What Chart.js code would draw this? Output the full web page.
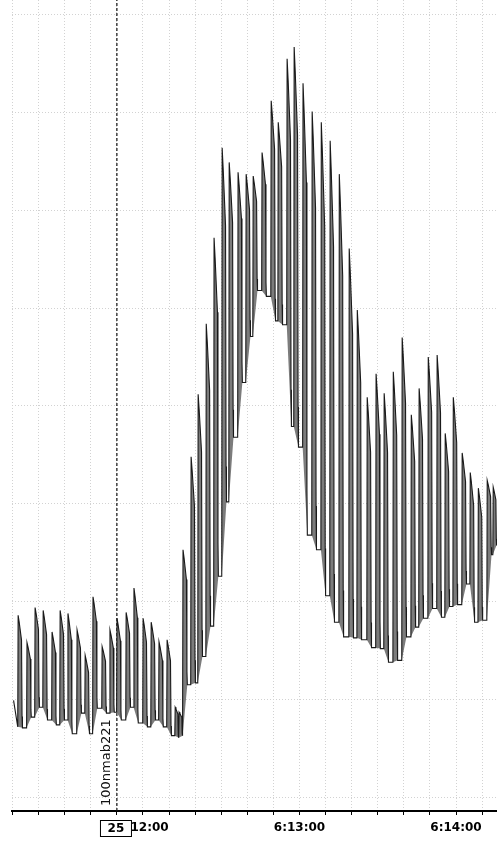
<!DOCTYPE html>
<html>
<head>
<meta charset="utf-8">
<script src="https://cdn.jsdelivr.net/npm/chart.js@4/dist/chart.umd.min.js"></script>
<style>
  html, body { margin: 0; padding: 0; background: #ffffff; }
  #wrap { width: 497px; height: 841px; position: relative; }
</style>
</head>
<body>
<div id="wrap"><canvas id="trace"></canvas></div>
<script>
// Times are seconds relative to 6:12:00.
const peakTimes = [
  -47.9, -44.5, -41.4, -38.3, -34.9, -31.8, -28.8, -25.3, -22.2, -19.2,
  -15.7, -12.7, -10.0, -6.5, -3.5, 0.0, 3.1, 6.1, 9.2, 12.3,
  13.8, 15.3, 18.4, 21.1, 24.2, 27.2, 30.3, 33.0, 36.4, 39.5,
  42.2, 45.6, 49.1, 51.8, 55.2, 57.9, 61.3, 64.8, 68.3, 71.7,
  75.2, 79.0, 82.1, 85.9, 89.3, 92.4, 95.9, 99.3, 102.8, 105.8,
  109.3, 112.7, 115.8, 118.9, 122.3, 125.4, 128.5, 131.9, 134.2
];
// Level reached at the top of each beat.
const peakLevels = [
  18.6, 15.8, 19.4, 19.1, 16.9, 19.1, 18.8, 17.1, 14.5, 20.5,
  15.4, 17.1, 18.3, 18.9, 21.4, 18.3, 17.9, 15.9, 16.1, 9.2,
  8.7, 25.3, 34.8, 41.2, 48.4, 57.2, 66.4, 64.9, 63.9, 63.7,
  63.5, 65.9, 71.2, 69.0, 75.5, 76.7, 73.0, 70.1, 69.0, 67.1,
  63.7, 56.1, 49.8, 40.9, 43.3, 41.3, 43.5, 47.0, 39.1, 41.8,
  45.0, 45.2, 37.2, 40.9, 35.2, 33.2, 31.6, 32.4, 31.7
];
// Level each beat rises from.
const troughLevels = [
  7.2, 7.1, 8.2, 9.2, 7.9, 7.4, 7.9, 6.5, 8.6, 6.5,
  9.1, 8.6, 8.7, 7.9, 9.2, 7.6, 7.2, 7.9, 7.2, 6.3,
  6.1, 6.3, 11.5, 11.7, 14.4, 17.5, 22.6, 30.2, 36.8, 42.4,
  47.1, 51.8, 51.2, 48.7, 48.3, 37.9, 35.8, 26.8, 25.3, 20.6,
  17.9, 16.4, 16.3, 16.1, 15.3, 15.2, 13.8, 14.0, 16.4, 17.4,
  18.3, 19.3, 18.4, 19.5, 19.7, 21.8, 17.9, 18.1, 24.8
];
const startTime = -49.6, startLevel = 9.9;
const endTime = 135.7, endLevel = 25.8;

const markerTime = -10;
const markerLabel = '100nmab221';
const eventCode = '25';

const gridSeconds = [-50, -40, -30, -20, -10, 0, 10, 20, 30, 40, 50, 60, 70, 80, 90, 100, 110, 120, 130];
const levelGrid = [0, 10, 20, 30, 40, 50, 60, 70, 80];

// Each beat: fast rise, a high plateau, then a steep drop to the next trough.
const tracePts = [{ x: startTime, y: startLevel }];
const basePts = [{ x: startTime, y: startLevel }];
for (let i = 0; i < peakTimes.length; i++) {
  const t = peakTimes[i], p = peakLevels[i], lo = troughLevels[i];
  const last = i + 1 >= peakTimes.length;
  const next = last ? endLevel : troughLevels[i + 1];
  const gap = (last ? endTime : peakTimes[i + 1]) - t;
  const k = Math.min(1, (gap - 0.15) / 1.7);
  const amp = p - next;
  tracePts.push(
    { x: t - 0.1, y: lo },
    { x: t + 0.05, y: p },
    { x: t + 0.45 * k, y: p - 0.06 * amp },
    { x: t + 1.35 * k, y: p - 0.22 * amp },
    { x: t + 1.55 * k, y: next + 0.1 * amp },
    { x: t + 1.7 * k, y: next }
  );
  basePts.push({ x: t - 0.1, y: lo }, { x: t + 1.7 * k, y: next });
}
tracePts.push({ x: endTime, y: endLevel });
basePts.push({ x: endTime, y: endLevel });

function clockLabel(sec) {
  const total = 6 * 3600 + 12 * 60 + sec;
  const h = Math.floor(total / 3600);
  const m = Math.floor((total % 3600) / 60);
  const s = Math.round(total % 60);
  return h + ':' + String(m).padStart(2, '0') + ':' + String(s).padStart(2, '0');
}

const overlay = {
  id: 'overlay',
  afterDraw(chart) {
    const { ctx, chartArea, scales } = chart;
    const xm = scales.x.getPixelForValue(markerTime);
    ctx.save();
    ctx.fillStyle = '#111';
    ctx.font = '13px "DejaVu Sans"';
    ctx.translate(xm - 10, chartArea.bottom - 5);
    ctx.rotate(-Math.PI / 2);
    ctx.textAlign = 'left';
    ctx.textBaseline = 'middle';
    ctx.fillText(markerLabel, 0, 0);
    ctx.restore();

    const x0 = scales.x.getPixelForValue(0);
    const bx = x0 - 43, by = chartArea.bottom + 9, bw = 31, bh = 16;
    ctx.save();
    ctx.fillStyle = '#fff';
    ctx.fillRect(bx, by, bw + 1, bh + 1);
    ctx.strokeStyle = '#000';
    ctx.lineWidth = 1;
    ctx.strokeRect(bx + 0.5, by + 0.5, bw, bh);
    ctx.fillStyle = '#000';
    ctx.font = 'bold 12px "DejaVu Sans"';
    ctx.textAlign = 'center';
    ctx.textBaseline = 'middle';
    ctx.fillText(eventCode, bx + bw / 2 + 0.5, by + bh / 2 + 1);
    ctx.restore();
  }
};

new Chart(document.getElementById('trace'), {
  type: 'line',
  data: {
    datasets: [
      {
        data: tracePts,
        borderColor: '#1a1a1a',
        borderWidth: 1.1,
        backgroundColor: '#7c7c7c',
        pointRadius: 0,
        tension: 0,
        fill: { target: 1, above: '#7c7c7c', below: '#7c7c7c' }
      },
      {
        data: basePts,
        borderColor: 'rgba(0,0,0,0)',
        borderWidth: 0,
        pointRadius: 0,
        tension: 0,
        fill: false
      },
      {
        data: [{ x: markerTime, y: -1.4 }, { x: markerTime, y: 81.5 }],
        borderColor: '#111',
        borderWidth: 1.2,
        borderDash: [3, 2],
        pointRadius: 0,
        fill: false
      }
    ]
  },
  options: {
    responsive: true,
    maintainAspectRatio: false,
    animation: false,
    devicePixelRatio: 1,
    layout: { padding: { left: 12, right: 0, top: 0, bottom: 0 } },
    plugins: {
      legend: { display: false },
      tooltip: { enabled: false },
      filler: { propagate: false, drawTime: 'beforeDatasetDraw' }
    },
    scales: {
      x: {
        type: 'linear',
        min: -50.2,
        max: 135.7,
        afterBuildTicks: s => { s.ticks = gridSeconds.map(v => ({ value: v })); },
        afterFit: s => { s.height = 30; },
        ticks: {
          autoSkip: false,
          maxRotation: 0,
          padding: 6,
          color: '#000',
          font: { family: 'DejaVu Sans', size: 12, weight: 'bold' },
          callback: v => (v % 60 === 0 ? clockLabel(v) : '')
        },
        grid: { color: '#d2d2d2', lineWidth: 1, tickLength: 4, tickColor: '#000', tickBorderDash: [] },
        border: { display: true, color: '#000', width: 2, dash: [1, 2] }
      },
      y: {
        type: 'linear',
        min: -1.4,
        max: 81.5,
        afterBuildTicks: s => { s.ticks = levelGrid.map(v => ({ value: v })); },
        afterFit: s => { s.width = 0; },
        ticks: { display: false },
        grid: { color: '#d2d2d2', lineWidth: 1, drawTicks: false },
        border: { display: false, dash: [1, 2] }
      }
    }
  },
  plugins: [overlay]
});
</script>
</body>
</html>
